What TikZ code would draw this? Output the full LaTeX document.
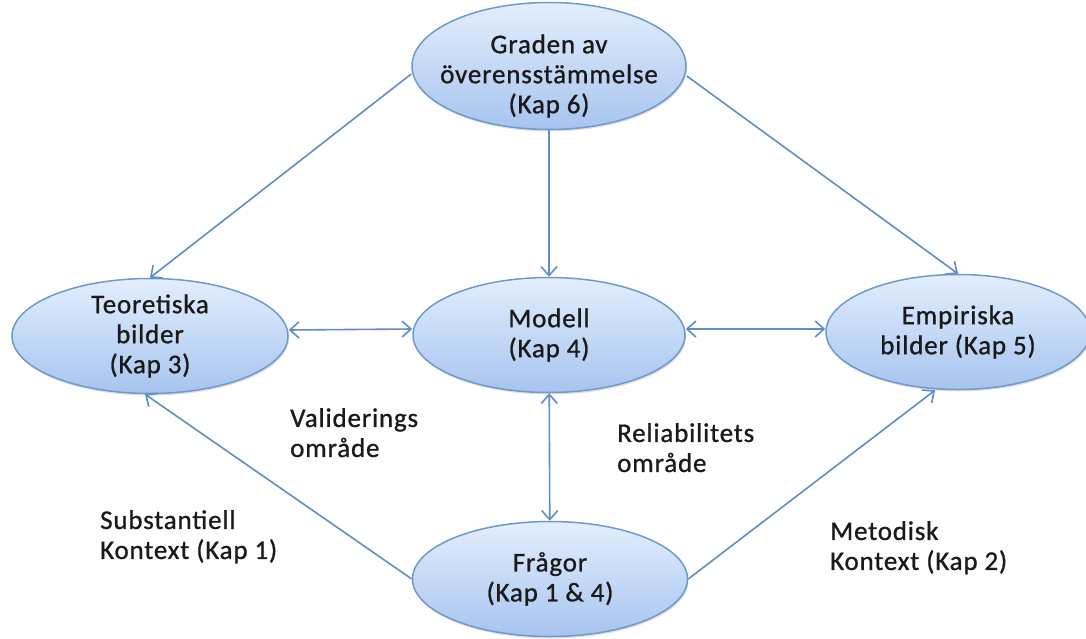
\documentclass[tikz,border=0pt]{standalone}
\usepackage{fontspec}
\setmainfont{Carlito}[LetterSpace=3, FakeBold=0.9]
\usetikzlibrary{shapes.geometric,arrows.meta,shadows}
\definecolor{edgeblue}{HTML}{6F99CC}
\definecolor{linkblue}{HTML}{5F8DC6}
\definecolor{filltop}{HTML}{E3EEFD}
\definecolor{fillbot}{HTML}{A7C4EF}
\definecolor{inkdark}{HTML}{1A1A1A}
\tikzset{
  barb/.tip={Straight Barb[length=9pt,width=16pt,line width=1.6pt]},
  topic/.style={ellipse, draw=edgeblue, line width=1.5pt,
    top color=filltop, bottom color=fillbot,
    minimum width=272pt, minimum height=115pt, inner sep=-30pt,
    align=center, text=inkdark, font=\fontsize{27}{30}\selectfont,
    drop shadow={shadow xshift=1pt, shadow yshift=-2pt, opacity=0.25}},
  link/.style={draw=linkblue, line width=1.6pt, -barb},
  twoway/.style={link, barb-barb},
  note/.style={align=left, anchor=north west, inner sep=0pt, text=inkdark,
    font=\fontsize{27}{30}\selectfont}
}
\begin{document}
\begin{tikzpicture}[x=1pt,y=-1pt]
\useasboundingbox (0,0) rectangle (1086,639);
\node[topic, minimum width=274pt, minimum height=127pt,
  label={[align=center, text=inkdark, font=\fontsize{27}{30}\selectfont, yshift=-10pt]center:Graden av\\överensstämmelse\\(Kap 6)}]
  (grad) at (549,66) {};
\node[topic, minimum width=276pt] (teo) at (150,336) {Teoretiska\\bilder\\(Kap 3)};
\node[topic] (mod) at (549,335) {Modell\\(Kap 4)};
\node[topic, minimum width=264pt] (emp) at (958,332) {Empiriska\\bilder (Kap 5)};
\node[topic, minimum width=275pt] (fra) at (550,579) {Frågor\\(Kap 1 \& 4)};

\draw[link] ([yshift=-8pt]grad.west) -- (teo.north);
\draw[link] (grad) -- (mod);
\draw[link] ([yshift=-10pt]grad.east) -- (emp.north);
\draw[twoway] ([yshift=6pt]teo.east) -- ([yshift=6pt]mod.west);
\draw[twoway] ([yshift=6pt]mod.east) -- ([yshift=3pt]emp.west);
\draw[twoway] (mod) -- (fra);
\draw[link] (fra.west) -- ([xshift=-5pt]teo.south);
\draw[link] (fra.east) -- ([xshift=-23pt]emp.south);

\node[note] (val) at (290,408) {Validerings\\område};
\node[note] (rel) at (617,423) {Reliabilitets\\område};
\node[note] (sub) at (100,510) {Substantiell\\Kontext (Kap 1)};
\node[note] (met) at (830,521) {Metodisk\\Kontext (Kap 2)};
\end{tikzpicture}
\end{document}
